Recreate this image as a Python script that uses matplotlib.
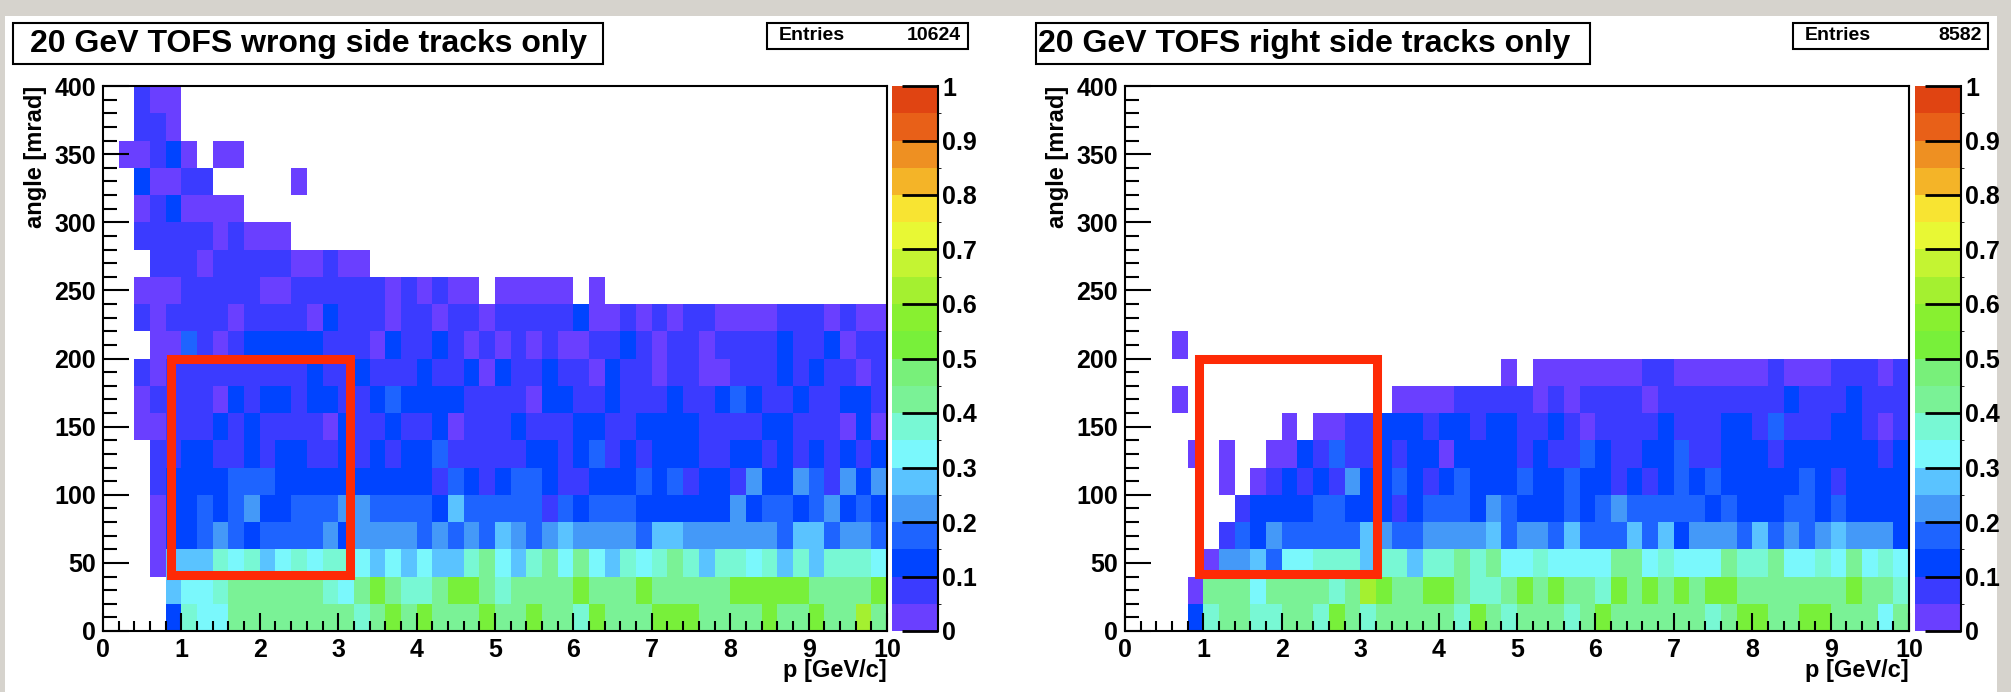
import numpy as np
import matplotlib
matplotlib.use("Agg")
import matplotlib.pyplot as plt
from matplotlib.colors import ListedColormap, BoundaryNorm
from matplotlib.patches import Rectangle
from matplotlib.ticker import MultipleLocator

# bin edges of the 2D histograms
P_EDGES = np.linspace(0, 10, 51)       # p [GeV/c], 50 bins
ANGLE_EDGES = np.linspace(0, 400, 21)  # angle [mrad], 20 bins

# colour level of each cell (level k -> value k*0.05 .. (k+1)*0.05), '.' = empty
# rows run from 380-400 mrad (top) down to 0-20 mrad (bottom), 50 columns each
WRONG_SIDE = [
    "..100..... .......... .......... .......... ..........",
    "..110..... .......... .......... .......... ..........",
    ".00120.00. .......... .......... .......... ..........",
    "..20011... ..0....... .......... .......... ..........",
    "..0120000. .......... .......... .......... ..........",
    "..11111010 00........ .......... .......... ..........",
    "...1110111 1100100... .......... .......... ..........",
    "..00011111 0011111101 0100.00000 .0........ ..........",
    "..10111101 1110211101 1011011111 2001010110 0001110100",
    "...0031012 2222111021 1210101010 0112101101 1112112011",
    "..10111111 1112112111 2112021121 1021101100 1112121101",
    "..01111021 2212211232 2221111022 1121112112 3211211221",
    "..00111212 1111021121 1201112111 2211222211 1122111020",
    "...1122112 1221121212 2311111221 2312122211 2212121212",
    "...1222233 3222222222 2132123321 1222323122 1422431424",
    "...0223234 2233344333 3253333313 2333222222 4233234232",
    "...0223432 3333424444 3434354345 4444355444 4443553443",
    "...0555767 5676776565 6557865786 8657678757 7675757776",
    "....566788 8888768a87 78aa878888 a888a88888 aaaaa8888a",
    "....276688 88888878a8 a888a88a88 7a888aaa88 88a88a88c8",
]

RIGHT_SIDE = [
    ".......... .......... .......... .......... ..........",
    ".......... .......... .......... .......... ..........",
    ".......... .......... .......... .......... ..........",
    ".......... .......... .......... .......... ..........",
    ".......... .......... .......... .......... ..........",
    ".......... .......... .......... .......... ..........",
    ".......... .......... .......... .......... ..........",
    ".......... .......... .......... .......... ..........",
    ".......... .......... .......... .......... ..........",
    "...0...... .......... .......... .......... ..........",
    ".......... .......... ....0.0000 0001100000 0100011101",
    "...0...... .......000 0111110101 1110111111 1121112111",
    ".......... 0.00112221 2212211210 1111211122 1311122101",
    "....0.0..0 0213112122 0222212113 2112231122 2122222212",
    "......0.01 2121422321 2322232232 2121232322 2223212222",
    ".......122 2233222123 3324322232 3433333232 2233232222",
    "......1324 3333354334 4445344353 3353524443 5343454442",
    ".....04453 6677757757 7878667666 6886766687 7866768676",
    "....088868 88878ca88a a8778a8a88 7a8a8a8aa8 888888a887",
    "....278877 887a878888 87a8788878 a88888878a a88aa88868",
]

TITLES = ["20 GeV TOFS wrong side tracks only", "20 GeV TOFS right side tracks only"]
ENTRIES = [10624, 8582]

# highlighted region (p from, p to, angle from, angle to)
BOXES = [(0.865, 3.145, 41, 200), (0.94, 3.21, 42, 200)]

PALETTE = [
    "#6a3fff", "#3b3bff", "#0044ff", "#1e64ff", "#4499f8",
    "#5ac3ff", "#7af8fc", "#78f8d4", "#7af296", "#78f07a",
    "#78f03a", "#88f030", "#a4f030", "#c4f432", "#e8f834",
    "#f8e432", "#f4b428", "#ee9022", "#e86018", "#e04412",
]

W, H = 2011, 692


def to_grid(rows):
    grid = []
    for row in rows[::-1]:
        row = row.replace(" ", "")
        assert len(row) == 50
        grid.append([np.nan if c == "." else (int(c, 36) + 0.5) / 20 for c in row])
    return np.ma.masked_invalid(np.array(grid))


plt.rcParams["font.family"] = ["Liberation Sans", "DejaVu Sans"]
plt.rcParams["font.weight"] = "bold"

cmap = ListedColormap(PALETTE)
norm = BoundaryNorm(np.linspace(0, 1, 21), 20)

fig = plt.figure(figsize=(W / 100, H / 100), dpi=100, facecolor="#d6d3cd")
fig.patches.append(Rectangle((5 / W, 0), (W - 19) / W, (H - 16) / H, transform=fig.transFigure,
                             facecolor="white", edgecolor="none", zorder=-10))

panels = [
    (103, 892, WRONG_SIDE, (13, 603, 30), (767, 968, 779, 961)),
    (1125, 1915, RIGHT_SIDE, (1036, 1590, 1038), (1793, 1988, 1805, 1982)),
]

for i, (x0, cbx, rows, tbox, ebox) in enumerate(panels):
    ax = fig.add_axes([x0 / W, 61 / H, 784 / W, 545 / H])
    mesh = ax.pcolormesh(P_EDGES, ANGLE_EDGES, to_grid(rows), cmap=cmap, norm=norm)
    ax.set_xlim(0, 10)
    ax.set_ylim(0, 400)
    ax.xaxis.set_major_locator(MultipleLocator(1))
    ax.xaxis.set_minor_locator(MultipleLocator(0.2))
    ax.yaxis.set_major_locator(MultipleLocator(50))
    ax.yaxis.set_minor_locator(MultipleLocator(10))
    ax.tick_params(which="both", direction="in", top=False, right=False, width=1.5,
                   labelsize=18, pad=5)
    ax.tick_params(axis="x", which="major", length=13)
    ax.tick_params(axis="x", which="minor", length=7)
    ax.tick_params(axis="y", which="major", length=19)
    ax.tick_params(axis="y", which="minor", length=10)
    for s in ax.spines.values():
        s.set_linewidth(1.5)

    ax.text(-0.086, 1.0, "angle [mrad]", rotation=90, ha="center", va="top",
            transform=ax.transAxes, fontsize=17)
    ax.text(1.0, -0.072, "p [GeV/c]", ha="right", va="center",
            transform=ax.transAxes, fontsize=17)

    p0, p1, a0, a1 = BOXES[i]
    ax.add_patch(Rectangle((p0, a0), p1 - p0, a1 - a0, fill=False, edgecolor="#fe2a06",
                           linewidth=6.5, zorder=5))

    cax = fig.add_axes([cbx / W, 61 / H, 46 / W, 545 / H])
    cb = fig.colorbar(mesh, cax=cax, ticks=np.linspace(0, 1, 11))
    cb.outline.set_visible(False)
    cb.set_ticklabels(["0", "0.1", "0.2", "0.3", "0.4", "0.5", "0.6", "0.7", "0.8", "0.9", "1"])
    cax.tick_params(direction="in", length=26, width=2, labelsize=18, pad=3)
    cax.plot([1, 1], [0, 1], transform=cax.transAxes, color="black", lw=1.5, clip_on=False)

    # title box
    bx0, bx1, tx = tbox
    fig.patches.append(Rectangle((bx0 / W, 1 - 64 / H), (bx1 - bx0) / W, 41 / H,
                                 transform=fig.transFigure, facecolor="white",
                                 edgecolor="black", linewidth=1.5))
    fig.text(tx / W, 1 - 44 / H, TITLES[i], ha="left", va="center", fontsize=23,
             fontweight="bold")

    # stats box
    ex0, ex1, lx, rx = ebox
    fig.patches.append(Rectangle((ex0 / W, 1 - 49 / H), (ex1 - ex0) / W, 26 / H,
                                 transform=fig.transFigure, facecolor="white",
                                 edgecolor="black", linewidth=1.5))
    fig.text(lx / W, 1 - 36 / H, "Entries", ha="left", va="center", fontsize=14)
    fig.text(rx / W, 1 - 36 / H, str(ENTRIES[i]), ha="right", va="center", fontsize=14)

fig.savefig("out.png", dpi=100, facecolor=fig.get_facecolor())
